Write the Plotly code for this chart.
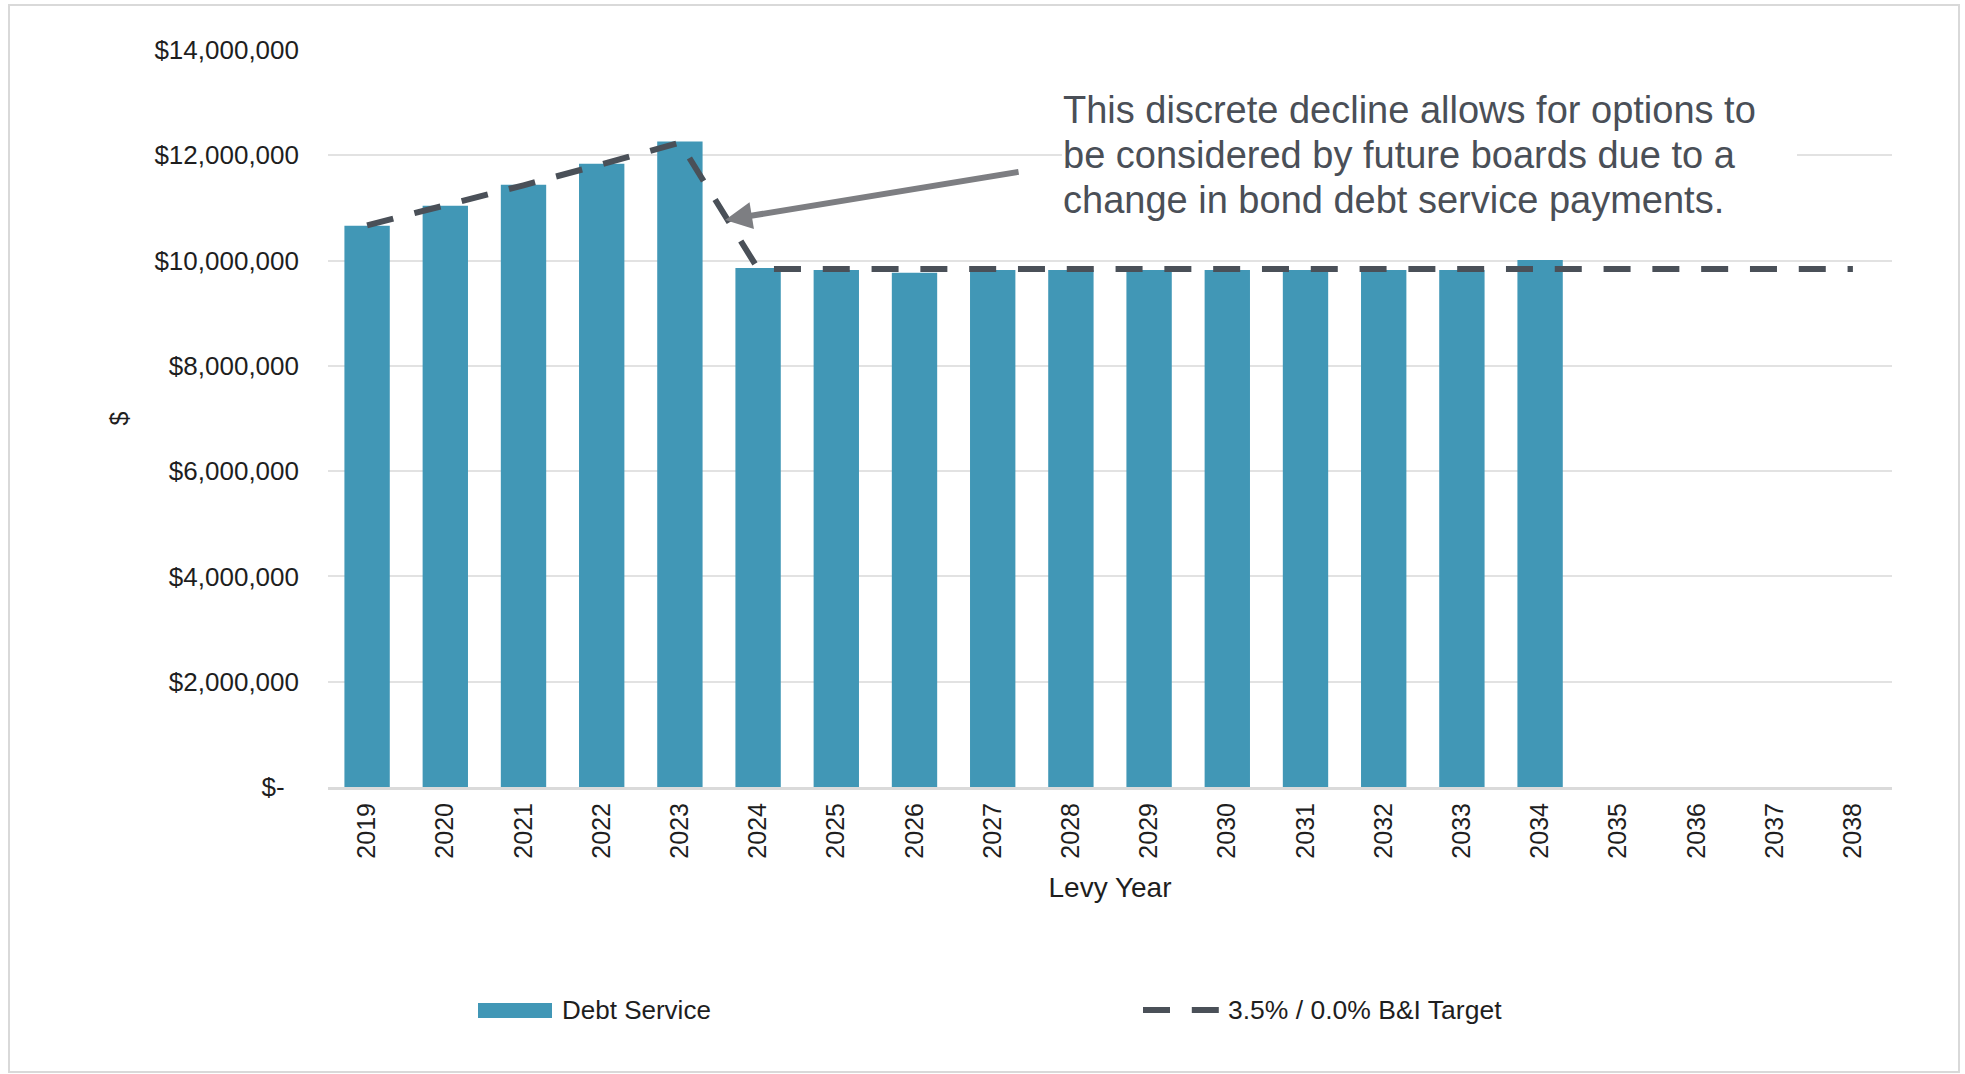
import plotly.graph_objects as go

# ---- data -------------------------------------------------------------
levy_years = ["2019", "2020", "2021", "2022", "2023", "2024", "2025", "2026", "2027", "2028",
              "2029", "2030", "2031", "2032", "2033", "2034", "2035", "2036", "2037", "2038"]

debt_service = [10.66e6, 11.04e6, 11.44e6, 11.84e6, 12.26e6, 9.86e6, 9.82e6, 9.77e6, 9.82e6, 9.82e6,
                9.82e6, 9.82e6, 9.82e6, 9.82e6, 9.82e6, 10.01e6, None, None, None, None]

bi_target = [10.67e6, 11.04e6, 11.43e6, 11.83e6, 12.24e6, 9.84e6, 9.84e6, 9.84e6, 9.84e6, 9.84e6,
             9.84e6, 9.84e6, 9.84e6, 9.84e6, 9.84e6, 9.84e6, 9.84e6, 9.84e6, 9.84e6, 9.84e6]

y_tick_values = [0, 2e6, 4e6, 6e6, 8e6, 10e6, 12e6, 14e6]
y_tick_labels = ["$-\u00a0\u00a0", "$2,000,000", "$4,000,000", "$6,000,000", "$8,000,000",
                 "$10,000,000", "$12,000,000", "$14,000,000"]

series_names = ["Debt Service", "3.5% / 0.0% B&I Target"]
callout_lines = ["This discrete decline allows for options to",
                 "be considered by future boards due to a",
                 "change in bond debt service payments."]

# ---- styling ----------------------------------------------------------
W, H = 1965, 1074
M_L, M_R, M_T, M_B = 328, 73, 50, 287
FONT = "Liberation Sans, Arial, Helvetica, sans-serif"
BAR_COLOR = "#4197b6"
LINE_COLOR = "#4a5058"
TEXT_COLOR = "#1e1e1e"
CALLOUT_COLOR = "#4a4f57"
GRID_COLOR = "#e2e2e2"
DASH = "27px,21.8px"


def px_x(px):
    """Page x pixel -> paper fraction."""
    return (px - M_L) / (W - M_L - M_R)


def px_y(py):
    """Page y pixel (from top) -> paper fraction."""
    return (H - M_B - py) / (H - M_T - M_B)


fig = go.Figure()

fig.add_trace(go.Bar(
    x=levy_years, y=debt_service, name=series_names[0],
    marker=dict(color=BAR_COLOR, line=dict(width=0)),
    showlegend=False,
))

fig.add_trace(go.Scatter(
    x=levy_years, y=bi_target, name=series_names[1], mode="lines",
    line=dict(color=LINE_COLOR, width=6, dash=DASH),
    showlegend=False,
))

shapes = [
    # outer frame
    dict(type="rect", xref="paper", yref="paper",
         x0=px_x(9), x1=px_x(1959), y0=px_y(1072), y1=px_y(5),
         line=dict(color="#d9d9d9", width=2), fillcolor="rgba(0,0,0,0)", layer="below"),
    # white panel behind the callout text
    dict(type="rect", xref="paper", yref="paper",
         x0=px_x(1062), x1=px_x(1797), y0=px_y(232), y1=px_y(80),
         line=dict(width=0), fillcolor="white", layer="above"),
    # legend swatches
    dict(type="rect", xref="paper", yref="paper",
         x0=px_x(478), x1=px_x(552), y0=px_y(1018), y1=px_y(1003),
         line=dict(width=0), fillcolor=BAR_COLOR),
    dict(type="line", xref="paper", yref="paper",
         x0=px_x(1143), x1=px_x(1219), y0=px_y(1010), y1=px_y(1010),
         line=dict(color=LINE_COLOR, width=6, dash=DASH)),
]

annotations = []

# callout text, one annotation per line for tight line spacing
for i, line_text in enumerate(callout_lines):
    annotations.append(dict(
        xref="paper", yref="paper", x=px_x(1061), y=px_y(110.3 + 45 * i),
        xanchor="left", yanchor="middle", align="left",
        text=line_text, showarrow=False,
        font=dict(family=FONT, size=38, color=CALLOUT_COLOR)))

# callout arrow pointing at the drop after 2023
annotations.append(dict(
    xref="x", yref="y", x=4.578, y=10.77e6,
    axref="x", ayref="y", ax=8.35, ay=11.69e6,
    text="", showarrow=True, arrowhead=2, arrowsize=0.9,
    arrowwidth=6, arrowcolor="#7d7e82", standoff=0))

# legend labels
annotations.append(dict(
    xref="paper", yref="paper", x=px_x(560), y=px_y(1010),
    xanchor="left", yanchor="middle", text=series_names[0], showarrow=False,
    font=dict(family=FONT, size=26, color=TEXT_COLOR)))
annotations.append(dict(
    xref="paper", yref="paper", x=px_x(1226), y=px_y(1010),
    xanchor="left", yanchor="middle", text=series_names[1], showarrow=False,
    font=dict(family=FONT, size=26.5, color=TEXT_COLOR)))

fig.update_layout(
    width=W, height=H, autosize=False,
    margin=dict(l=M_L, r=M_R, t=M_T, b=M_B, pad=0),
    paper_bgcolor="white", plot_bgcolor="white",
    font=dict(family=FONT, color=TEXT_COLOR),
    bargap=0.42,
    showlegend=False,
    shapes=shapes,
    annotations=annotations,
    xaxis=dict(
        type="category", showgrid=False, showline=True,
        linecolor="#dadada", linewidth=3,
        ticks="", tickangle=-90, ticklabelstandoff=3,
        tickfont=dict(family=FONT, size=25, color=TEXT_COLOR),
        title=dict(text="Levy Year", standoff=20,
                   font=dict(family=FONT, size=28, color=TEXT_COLOR)),
    ),
    yaxis=dict(
        range=[0, 14e6], tickvals=y_tick_values, ticktext=y_tick_labels,
        showgrid=True, gridcolor=GRID_COLOR, gridwidth=2,
        zeroline=False, showline=False, ticks="", ticklabelstandoff=28,
        tickfont=dict(family=FONT, size=26, color=TEXT_COLOR),
        title=dict(text="$", standoff=18,
                   font=dict(family=FONT, size=25, color=TEXT_COLOR)),
    ),
)

fig.write_html("out.html")
